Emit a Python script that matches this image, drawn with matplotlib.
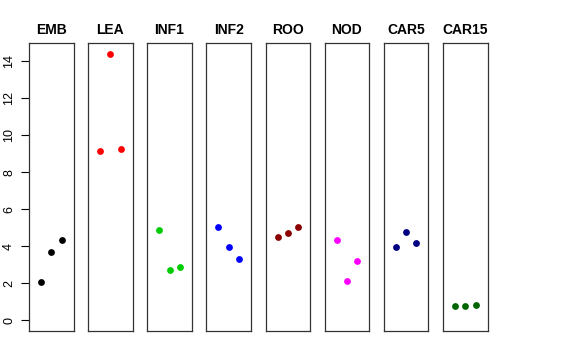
import matplotlib
matplotlib.use("Agg")
import matplotlib.pyplot as plt

plt.rcParams['font.family'] = ['Liberation Sans', 'DejaVu Sans']

groups = ["EMB", "LEA", "INF1", "INF2", "ROO", "NOD", "CAR5", "CAR15"]
colors = ["black", "red", "#00CD00", "blue", "#8B0000", "magenta", "#000080", "#006400"]
values = [
    [2.07, 3.66, 4.34],
    [9.15, 14.40, 9.24],
    [4.85, 2.74, 2.86],
    [5.06, 3.93, 3.30],
    [4.47, 4.70, 5.01],
    [4.34, 2.12, 3.19],
    [3.95, 4.74, 4.18],
    [0.79, 0.77, 0.85],
]
reps = [1, 2, 3]
yticks = [0, 2, 4, 6, 8, 10, 12, 14]

W, H = 576, 360
fig = plt.figure(figsize=(W / 100, H / 100), dpi=100)

for i, (g, c, v) in enumerate(zip(groups, colors, values)):
    left = 29 + i * 59.15
    ax = fig.add_axes([left / W, 29 / H, 44.5 / W, 288 / H])
    ax.scatter(reps, v, color=c, s=24, zorder=3, linewidths=0)
    ax.set_xlim(-0.16, 4.16)
    ax.set_ylim(-0.58, 14.97)
    ax.set_xticks([])
    ax.set_title(g, fontsize=10, fontweight="bold", pad=6.5)
    for sp in ax.spines.values():
        sp.set_linewidth(0.9)
        sp.set_color("#333333")
    if i == 0:
        ax.set_yticks(yticks)
        ax.set_yticklabels([str(t) for t in yticks], rotation=90, va="center", fontsize=9)
        ax.tick_params(axis="y", length=5.5, width=0.8, pad=4.5)
    else:
        ax.set_yticks([])

fig.savefig("out.png", dpi=100)
